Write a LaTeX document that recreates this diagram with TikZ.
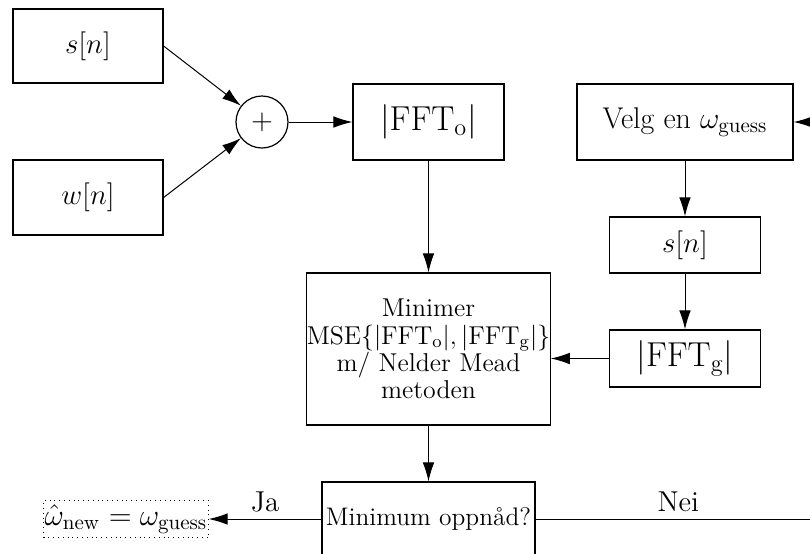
\RequirePackage{fix-cm}
\documentclass[tikz,border=0pt]{standalone}
\usetikzlibrary{arrows.meta}
\begin{document}
\begin{tikzpicture}[x=0.5pt,y=-0.5pt,
  every node/.style={font=\Large},
  box/.style={draw, line width=0.6pt, rectangle, align=center, inner sep=0pt},
  bigtext/.style={font=\fontsize{17.3}{20}\selectfont},
  link/.style={line width=0.5pt, -{Latex[length=9.5pt,width=5.8pt]}}]
  \clip (0,0) rectangle (810,553);

  % signal and noise sources with the summing junction
  \node[box, minimum width=75pt, minimum height=37pt] (sig) at (88,46) {$s[n]$};
  \node[box, minimum width=75pt, minimum height=37.5pt] (noise) at (88,197.5) {$w[n]$};
  \node[draw, circle, line width=0.6pt, minimum size=26pt, inner sep=0pt] (sum) at (262,122) {$+$};

  % observed spectrum
  \node[box, bigtext, minimum width=75.5pt, minimum height=38pt] (ffto) at (428.5,122) {$|\mathrm{FFT}_\mathrm{o}|$};

  % guessed signal branch
  \node[box, minimum width=108pt, minimum height=38pt, font=\fontsize{15}{18}\selectfont] (guess) at (685,122) {Velg en $\omega_\mathrm{guess}$};
  \node[box, minimum width=75.5pt, minimum height=28pt] (sig2) at (685,245) {$s[n]$};
  \node[box, bigtext, minimum width=75.5pt, minimum height=28.5pt] (fftg) at (685,358.5) {$|\mathrm{FFT}_\mathrm{g}|$};

  % optimisation and stop test
  \node[box, minimum width=121pt, minimum height=76pt, font=\fontsize{12.9}{13.6}\selectfont] (mse) at (428.5,349)
    {Minimer\\ $\mathrm{MSE}\big\{|\mathrm{FFT}_\mathrm{o}|,|\mathrm{FFT}_\mathrm{g}|\big\}$\\ m/ Nelder Mead\\ metoden};
  \node[box, minimum width=106.5pt, minimum height=37pt, font=\fontsize{12.7}{15}\selectfont] (check) at (428.5,519) {Minimum oppnåd?};
  \node[draw, dotted, line width=0.4pt, inner xsep=0.5pt, inner ysep=2pt, font=\fontsize{15}{18}\selectfont] (result) at (126,519) {$\hat\omega_\mathrm{new}=\omega_\mathrm{guess}$};
  \coordinate (turn) at (821,0);

  % connectors
  \draw[link] (sig.east) -- (sum);
  \draw[link] (noise.east) -- (sum);
  \draw[link] (sum) -- (ffto);
  \draw[link] (ffto) -- (mse);
  \draw[link] (guess) -- (sig2);
  \draw[link] (sig2) -- (fftg);
  \draw[link] (fftg.west) -- (fftg.west -| mse.east);
  \draw[link] (mse) -- (check);
  \draw[link] (check) -- node[above] {Ja} (result);
  \draw[link] (check.east) -- node[above] {Nei} (check.east -| turn) |- (guess.east);
\end{tikzpicture}
\end{document}
